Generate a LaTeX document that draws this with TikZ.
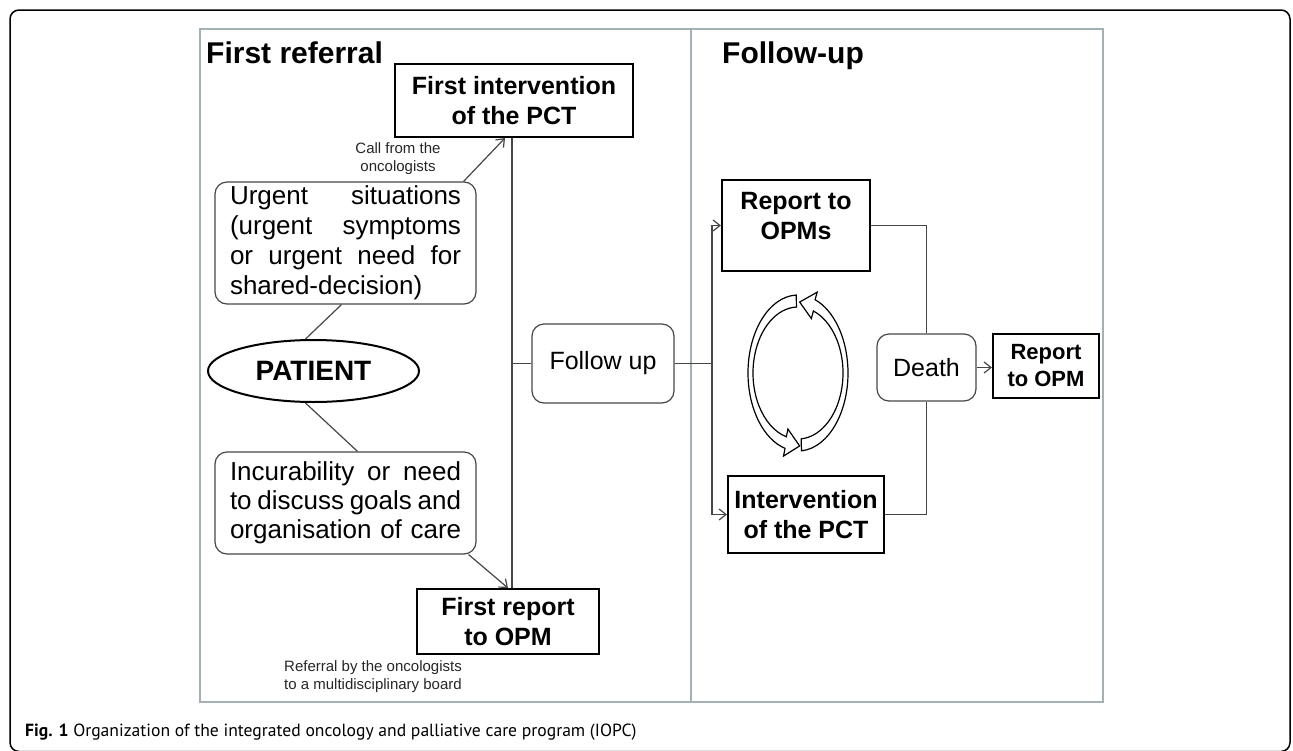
\documentclass[tikz,border=0pt]{standalone}
\usepackage{fontspec}
\setmainfont{Liberation Sans}
\newfontfamily\capfont{PT Sans}
\usetikzlibrary{arrows.meta,shapes.geometric,calc}
\definecolor{panelgray}{RGB}{163,177,181}
\definecolor{linegray}{RGB}{70,70,70}
\newcommand\fsz[2]{\fontsize{#1}{#2}\selectfont}
\begin{document}
\begin{tikzpicture}[x=1pt,y=-1pt,
  hbox/.style={draw=black, line width=2pt, inner sep=0pt, align=center, font=\bfseries\fsz{25}{30}},
  rbox/.style={draw=linegray, line width=1.2pt, rounded corners=12pt, inner sep=0pt},
  conn/.style={draw=linegray, line width=1.2pt},
  arr/.style={conn, -{Straight Barb[length=7pt,width=11pt]}},
  panel/.style={draw=panelgray, line width=2.5pt},
  small/.style={align=center, font=\fsz{15}{18}, text=black!85},
  cyc/.style={draw=black, fill=white, line width=1.2pt, line join=miter}
]
\useasboundingbox (0,0) rectangle (1293,750);
% outer frame
\draw[line width=1.5pt, rounded corners=9pt] (10,10) rectangle (1290,751.5);
% panels
\draw[panel] (200,29) rectangle (691,702);
\draw[panel] (691,29) rectangle (1103,702);
% headings
\node[anchor=base west, inner sep=0pt, font=\bfseries\fsz{30}{34}] (h1) at (206,63) {First referral};
\node[anchor=base west, inner sep=0pt, font=\bfseries\fsz{30}{34}] (h2) at (722,63) {Follow-up};
% left panel nodes
\node[hbox, minimum width=238pt, minimum height=73pt] (fi) at (514,100.5) {First intervention\\of the PCT};
\node[small] (call) at (398,159) {Call from the\\oncologists};
\node[rbox, minimum width=261pt, minimum height=122pt, text width=231pt, align=left, font=\fsz{26}{30}] (urg) at (345.5,243)
  {Urgent\hfill situations\\(urgent\hfill symptoms\\or\hfill urgent\hfill need\hfill for\\\mbox{shared-decision)}};
\node[ellipse, draw=black, line width=2pt, minimum width=211pt, minimum height=62pt, inner sep=0pt, font=\bfseries\fsz{28}{32}] (pat) at (313.5,371) {PATIENT};
\node[rbox, minimum width=261pt, minimum height=102pt, text width=231pt, align=left, font=\fsz{26}{29}] (inc) at (345.5,503)
  {Incurability\hfill or\hfill need\\to\hfill discuss\hfill goals\hfill and\\\mbox{organisation of care}};
\node[hbox, minimum width=182pt, minimum height=65pt] (fr) at (508,621.5) {First report\\to OPM};
\node[small] (ref) at (373,677) {Referral by the oncologists\\to a multidisciplinary board};
\node[rbox, minimum width=142pt, minimum height=79pt, font=\fsz{25}{30}] (fu) at (603,363.5) {Follow up};
% right panel nodes
\node[hbox, minimum width=148pt, minimum height=91pt] (rop) at (796,225.5) {};
\node[align=center, inner sep=0pt, font=\bfseries\fsz{25}{30}] (ropt) at (796,216) {Report to\\OPMs};
\node[hbox, minimum width=156pt, minimum height=77pt] (ipct) at (806,514.5) {Intervention\\of the PCT};
\node[rbox, minimum width=99pt, minimum height=67pt, font=\fsz{25}{30}] (death) at (926.5,367.5) {Death};
\node[hbox, minimum width=106pt, minimum height=64pt, font=\bfseries\fsz{22}{27}] (rpm) at (1046,366) {Report\\to OPM};
% cycle arrows
\coordinate (C) at (798,373);
\path[cyc] ($(C)+(268:50 and 78)$) arc[start angle=268, end angle=105, x radius=50, y radius=78]
  -- ($(C)+(105:56 and 86)$) -- ($(C)+(88:47.5 and 73)$) -- ($(C)+(105:39 and 58)$)
  -- ($(C)+(105:45 and 66)$) arc[start angle=105, end angle=268, x radius=45, y radius=66] -- cycle;
\path[cyc] ($(C)+(86:50 and 78)$) arc[start angle=86, end angle=-70, x radius=50, y radius=78]
  -- ($(C)+(-70:56 and 86)$) -- ($(C)+(-88:47.5 and 71)$) -- ($(C)+(-70:39 and 58)$)
  -- ($(C)+(-70:45 and 66)$) arc[start angle=-70, end angle=86, x radius=45, y radius=66] -- cycle;
% connectors left
\coordinate (vt) at ($(fi.south)+(-2,0)$);
\coordinate (vb) at (vt |- fr.north);
\draw[conn] (vt) -- (vb);
\draw[arr] ($(urg.north east)+(-13,0)$) -- ($(fi.south)+(-9,0)$);
\draw[arr] ($(inc.south east)+(-8,0)$) -- (fr.north);
\draw[conn] ($(urg.south)+(-4,0)$) -- ($(pat.north)+(-8,0)$);
\draw[conn] ($(pat.south)+(-8,0)$) -- ($(inc.north)+(12,0)$);
\draw[conn] (fu.west) -- (fu.west -| vt);
% connectors right
\coordinate (j) at (712,363.5);
\draw[conn] (fu.east) -- (j);
\draw[arr] (j) |- (rop.west);
\draw[arr] (j) |- (ipct.west);
\draw[conn] (rop.east) -| (death.north);
\draw[conn] (death.south) |- (ipct.east);
\draw[arr] (death.east) -- (death.east -| rpm.west);
% caption
\node[anchor=base west, inner sep=0pt, font=\capfont\fsz{17.6}{20}] (cap) at (25,736)
  {\textbf{Fig. 1} Organization of the integrated oncology and palliative care program (IOPC)};
\end{tikzpicture}
\end{document}
